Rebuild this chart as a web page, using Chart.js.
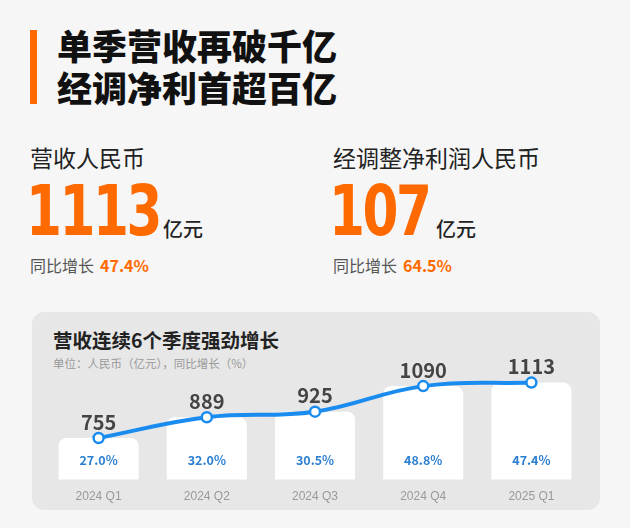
<!DOCTYPE html>
<html>
<head>
<meta charset="utf-8">
<script src="https://cdn.jsdelivr.net/npm/chart.js@4"></script>
<style>
  body { margin: 0; width: 630px; height: 528px; background: #f6f6f6; font-family: "Noto Sans CJK SC", sans-serif; position: relative; overflow: hidden; }
  .abs { position: absolute; white-space: nowrap; }
  .bar { left: 30px; top: 30px; width: 7px; height: 74px; background: #ff6a00; }
  .title { left: 57px; font-size: 35px; font-weight: 900; color: #111; line-height: 42px; }
  .lbl { font-size: 23px; color: #222; }
  .big { font-family: "DejaVu Sans Condensed", "DejaVu Sans", sans-serif; font-weight: bold; font-size: 70px; color: #ff6a00; letter-spacing: -3px; transform: scaleX(0.82); transform-origin: left top; }
  .unit { font-size: 20px; color: #222; font-weight: 500; }
  .yoy { font-size: 16px; color: #555; }
  .yoy b { color: #ff6a00; margin-left: 6px; font-size: 16px; }
  .panel { left: 32px; top: 312px; width: 568px; height: 198px; background: #e7e7e7; border-radius: 12px; }
  .ptitle { left: 53px; top: 325px; font-size: 19.5px; font-weight: bold; color: #222; }
  .psub { left: 53px; top: 355px; font-size: 11.5px; color: #999; }
  #wrap { position: absolute; left: 37px; top: 352px; width: 556px; height: 156px; }
</style>
</head>
<body>
<div class="abs bar"></div>
<div class="abs title" style="top:24px">单季营收再破千亿</div>
<div class="abs title" style="top:66px">经调净利首超百亿</div>

<div class="abs lbl" style="left:30px;top:140px">营收人民币</div>
<div class="abs big" style="left:26px;top:170px">1113</div>
<div class="abs unit" style="left:163px;top:214px">亿元</div>
<div class="abs yoy" style="left:30px;top:253px">同比增长<b>47.4%</b></div>

<div class="abs lbl" style="left:333px;top:140px">经调整净利润人民币</div>
<div class="abs big" style="left:329px;top:170px">107</div>
<div class="abs unit" style="left:436px;top:214px">亿元</div>
<div class="abs yoy" style="left:333px;top:253px">同比增长<b>64.5%</b></div>

<div class="abs panel"></div>
<div class="abs ptitle">营收连续6个季度强劲增长</div>
<div class="abs psub">单位：人民币（亿元），同比增长（%）</div>
<div id="wrap"><canvas id="c"></canvas></div>

<script>
const quarters = ["2024 Q1", "2024 Q2", "2024 Q3", "2024 Q4", "2025 Q1"];
const revenue = [755, 889, 925, 1090, 1113];
const growth = ["27.0%", "32.0%", "30.5%", "48.8%", "47.4%"];

const labelPlugin = {
  id: "labels",
  afterDatasetsDraw(chart) {
    const ctx = chart.ctx;
    const bars = chart.getDatasetMeta(1).data;
    const pts = chart.getDatasetMeta(0).data;
    ctx.save();
    ctx.textAlign = "center";
    pts.forEach((p, i) => {
      ctx.fillStyle = "#444";
      ctx.font = "bold 20px 'Noto Sans CJK SC', sans-serif";
      ctx.textBaseline = "bottom";
      ctx.fillText(revenue[i], p.x, p.y - 6);
      ctx.fillStyle = "#2b7fd0";
      ctx.font = "bold 12.5px 'Noto Sans CJK SC', sans-serif";
      ctx.textBaseline = "middle";
      ctx.fillText(growth[i], bars[i].x, chart.chartArea.bottom - 19);
    });
    ctx.restore();
  }
};

new Chart(document.getElementById("c"), {
  data: {
    labels: quarters,
    datasets: [
      {
        type: "line",
        data: revenue,
        borderColor: "#1a8cf0",
        borderWidth: 4,
        tension: 0.4,
        pointRadius: 5,
        pointBorderWidth: 2.5,
        pointBackgroundColor: "#fff",
        pointBorderColor: "#1a8cf0"
      },
      {
        type: "bar",
        data: revenue,
        backgroundColor: "#ffffff",
        borderRadius: 8,
        borderSkipped: false,
        barPercentage: 0.74,
        categoryPercentage: 1
      }
    ]
  },
  options: {
    responsive: true,
    maintainAspectRatio: false,
    animation: false,
    layout: { padding: { top: 0, bottom: 2, left: 0, right: 0 } },
    plugins: { legend: { display: false }, tooltip: { enabled: false } },
    scales: {
      x: {
        grid: { display: false },
        border: { display: false },
        ticks: { color: "#999", font: { size: 12 }, padding: 2 }
      },
      y: { display: false, min: 486, max: 1262 }
    }
  },
  plugins: [labelPlugin]
});
</script>
</body>
</html>
